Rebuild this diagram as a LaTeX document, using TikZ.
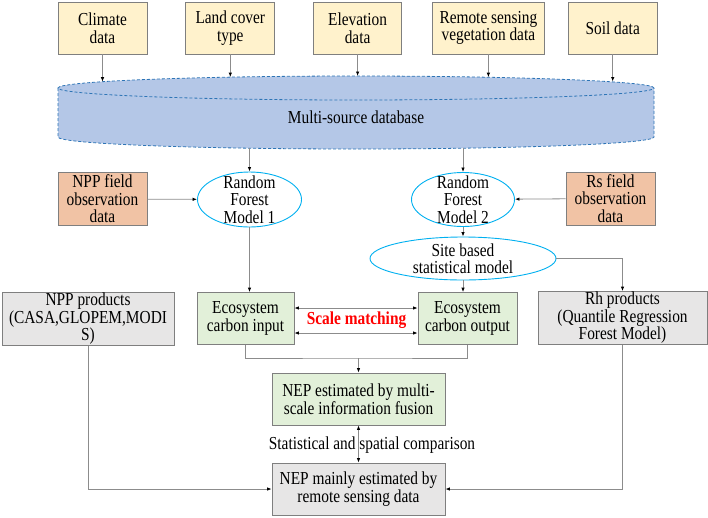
\documentclass[tikz,border=0pt]{standalone}
\usepackage{fontspec}
\setmainfont{Liberation Serif}[FakeStretch=0.84]
\usetikzlibrary{arrows.meta, positioning, shapes.geometric}

\definecolor{datfill}{HTML}{FFF2CC}
\definecolor{obsfill}{HTML}{F1C3A5}
\definecolor{carbfill}{HTML}{E2F0D9}
\definecolor{prodfill}{HTML}{E7E6E6}
\definecolor{dbfill}{HTML}{B4C7E7}
\definecolor{dbline}{HTML}{2E75B6}
\definecolor{modline}{HTML}{00B0F0}
\definecolor{edgegray}{HTML}{7F7F7F}
\definecolor{linkgray}{HTML}{8C8C8C}

\begin{document}
\begin{tikzpicture}[
    x=1pt, y=-1pt,
    every node/.style={
        font=\fontsize{18.3pt}{17.5pt}\selectfont,
        align=center
    },
    box/.style={draw=edgegray, line width=0.8pt, rectangle, inner sep=0pt, minimum height=52pt},
    datbox/.style={box, fill=datfill, minimum width=89pt},
    obsbox/.style={box, fill=obsfill, minimum width=89pt, minimum height=53pt},
    carbbox/.style={box, fill=carbfill},
    prodbox/.style={box, fill=prodfill, minimum height=53pt},
    model/.style={ellipse, draw=modline, line width=0.9pt, fill=white, inner xsep=0pt, inner ysep=-8pt},
    dbedge/.style={draw=dbline, line width=0.8pt, dash pattern=on 3pt off 2pt},
    link/.style={draw=linkgray, line width=0.8pt},
    arrow/.style={link, -{Latex[black, length=4.5pt, width=3.5pt]}},
    dblarrow/.style={link, {Latex[black, length=4.5pt, width=3.5pt]}-{Latex[black, length=4.5pt, width=3.5pt]}}
]
\useasboundingbox (0,0) rectangle (708,517);

% ---------- DATA SOURCES
\node[datbox] (clim) at (102.5,28) {Climate\\data};
\node[datbox, right=38pt of clim] (land) {Land cover\\type};
\node[datbox, right=38pt of land, minimum width=88pt] (elev) {Elevation\\data};
\node[datbox, right=30pt of elev, minimum width=112pt] (rsveg) {Remote sensing\\vegetation data};
\node[datbox, right=23pt of rsveg] (soil) {Soil data};

% ---------- DATABASE (cylinder)
\coordinate (dbtop) at (356,88);
\coordinate (dbbot) at (356,137);
\fill[dbfill] (58,88) -- (58,137) arc[start angle=180, end angle=360, x radius=298pt, y radius=12pt]
    -- (654,88) arc[start angle=0, end angle=180, x radius=298pt, y radius=12pt] -- cycle;
\draw[dbedge] (58,88) -- (58,137) arc[start angle=180, end angle=360, x radius=298pt, y radius=12pt] -- (654,88);
\draw[dbedge] (dbtop) ellipse [x radius=298pt, y radius=12pt];
\node (db) at (356,117) {Multi-source database};

\foreach \src/\dy in {clim/6.3, land/10.9, elev/12, rsveg/10.8, soil/6.5}
    \draw[arrow] (\src.south) -- ([yshift=\dy pt]\src.south |- dbtop);

% ---------- MODELS
\node[obsbox] (nppobs) at (102.5,199) {NPP field\\observation\\data};
\node[model, minimum width=104pt, minimum height=55pt] (rf1) at (249.5,199.5) {Random\\Forest\\Model 1};
\node[model, minimum width=103pt, minimum height=54pt] (rf2) at (463,199.5) {Random\\Forest\\Model 2};
\node[obsbox] (rsobs) at (610.5,198.5) {Rs field\\observation\\data};
\node[model, minimum width=186pt, minimum height=43pt] (site) at (463,258.5) {Site based\\statistical model};

% ---------- PRODUCTS / CARBON
\node[prodbox, minimum width=172pt] (nppprod) at (88,319) {NPP products\\(CASA,GLOPEM,MODI\\S)};
\node[carbbox, minimum width=97pt] (cin) at (245.5,318.5) {Ecosystem\\carbon input};
\node[carbbox, minimum width=99pt] (cout) at (467.5,318.5) {Ecosystem\\carbon output};
\node[prodbox, minimum width=169pt] (rhprod) at (622.5,318) {Rh products\\(Quantile Regression\\Forest Model)};
\node[text=red, font=\fontsize{18.3pt}{17.5pt}\selectfont\bfseries] (scale) at (356.5,320) {Scale matching};

% ---------- NEP
\node[carbbox, minimum width=173pt] (fusion) at (358.5,399) {NEP estimated by multi-\\scale information fusion};
\node[prodbox, minimum width=173pt, minimum height=52pt] (rsnep) at (358.5,489) {NEP mainly estimated by\\remote sensing data};
\node (cmp) at (372,445) {Statistical and spatial comparison};
\coordinate (merge) at (358.5,358);

% ---------- FLOW
\draw[arrow] ([yshift=-11pt]dbbot -| rf1) -- (rf1);
\draw[arrow] ([yshift=-11pt]dbbot -| rf2) -- (rf2);
\draw[arrow] (nppobs) -- (rf1);
\draw[arrow] (rsobs) -- (rf2);
\draw[arrow] (rf2) -- (site);
\draw[arrow] (rf1.south) -- (rf1.south |- cin.north);
\draw[arrow] (site.south) -- (site.south |- cout.north);
\draw[arrow] (site.east) -| (rhprod.north);

\draw[dblarrow] ([yshift=10.5pt]cin.east) -- ([yshift=10.5pt]cin.east -| cout.west);
\draw[dblarrow] ([yshift=-14.5pt]cin.east) -- ([yshift=-14.5pt]cin.east -| cout.west);

\draw[link] (cin.south) |- (merge) -| (cout.south);
\draw[arrow] (merge) -- (fusion);
\draw[dblarrow] (fusion) -- (rsnep);
\draw[arrow] (nppprod.south) |- (rsnep.west);
\draw[arrow] (rhprod.south) |- (rsnep.east);

\end{tikzpicture}
\end{document}
